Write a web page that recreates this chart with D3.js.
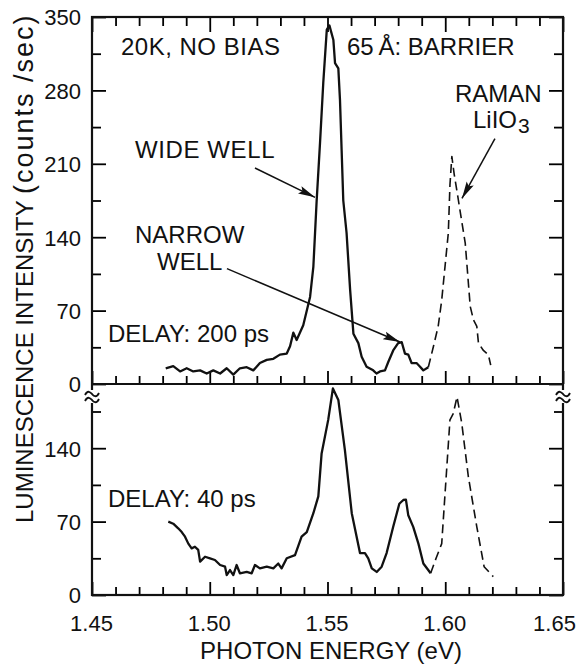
<!DOCTYPE html>
<html>
<head>
<meta charset="utf-8">
<script src="https://cdn.jsdelivr.net/npm/d3@7"></script>
<style>
body { margin: 0; background: #fff; }
svg text { font-family: "Liberation Sans", Arial, sans-serif; fill: #111; }
</style>
</head>
<body>
<div id="chart-area"></div>
<script>

// ---- data ----
// 200 ps delay, luminescence (solid)
var energy200 = [1.4813,1.4845,1.4874,1.4902,1.4930,1.4959,1.4987,1.5015,1.5044,1.5072,1.5100,1.5128,1.5157,1.5185,1.5213,1.5242,1.5270,1.5298,1.5327,1.5341,1.5355,1.5369,1.5397,1.5426,1.5440,1.5454,1.5468,1.5482,1.5497,1.5508,1.5525,1.5532,1.5546,1.5553,1.5560,1.5567,1.5581,1.5596,1.5610,1.5631,1.5645,1.5666,1.5694,1.5708,1.5723,1.5744,1.5758,1.5779,1.5800,1.5815,1.5829,1.5843,1.5857,1.5878,1.5893,1.5907,1.5928];
var counts200 = [15,17,12,15,12,13,10,13,10,15,9,15,16,13,20,23,24,28,29,36,49,42,56,83,112,175,229,287,338,342,328,306,301,271,223,175,144,90,48,39,26,16.5,13,10,12,13,21,32,39,40,29,28,20,20,16.5,13,16];
// 200 ps delay, Raman LiIO3 (dashed)
var ramanEnergy200 = [1.5928,1.5949,1.5970,1.5985,1.5999,1.6013,1.6020,1.6028,1.6038,1.6049,1.6056,1.6085,1.6106,1.6120,1.6134,1.6141,1.6162,1.6183,1.6193];
var ramanCounts200 = [16,35,55,80,112,144,190,217,200,185,175,134,74,61,55,39,32,28,18];

// 40 ps delay, luminescence (solid)
var energy40 = [1.4824,1.4845,1.4866,1.4881,1.4895,1.4909,1.4923,1.4937,1.4951,1.4959,1.4980,1.5001,1.5022,1.5044,1.5065,1.5072,1.5086,1.5100,1.5114,1.5128,1.5157,1.5178,1.5192,1.5213,1.5242,1.5270,1.5291,1.5305,1.5327,1.5362,1.5390,1.5412,1.5440,1.5461,1.5475,1.5503,1.5523,1.5546,1.5574,1.5603,1.5638,1.5659,1.5673,1.5688,1.5709,1.5730,1.5751,1.5779,1.5805,1.5822,1.5833,1.5843,1.5864,1.5886,1.5907,1.5938];
var counts40 = [70,68,63.6,60,55.6,49,44.5,46,43,31.8,36.5,35,33.4,28.6,27,19,23.8,19,28.6,20.7,22,20.7,28.6,25.4,27,25.4,30,25.4,35,38,55.6,60,78,94,135,167,197,186,138,78,40,40,35,25.4,22,27,40,65,87,90.6,91,76,65,49,30,20.7];
// 40 ps delay, Raman (dashed)
var ramanEnergy40 = [1.5938,1.5961,1.5985,1.6020,1.6034,1.6050,1.6070,1.6098,1.6134,1.6165,1.6204];
var ramanCounts40 = [20.7,35,49,167,173,189,164,113,65,27,17.5];

// ticks
var xTickLabels = ["1.45", "1.50", "1.55", "1.60", "1.65"];
var yTopMajor = [0, 70, 140, 210, 280, 350];
var yTopMinor = [35, 105, 175, 245, 315];
var yBotMajor = [0, 70, 140];
var yBotMinor = [35, 105, 175];

// arrows [fromEnergy, fromCount, toEnergy, toCount]
var arrowsTop = [
    [1.5192, 206, 1.5447, 178],   // wide well
    [1.6211, 234, 1.6071, 177],   // raman
    [1.5073, 110, 1.5808, 40]     // narrow well
];

// ---- layout ----
var margin = { left: 92, right: 563, top: 17, mid: 384, bottom: 595 };

var svg = d3.select("#chart-area")
    .append("svg")
        .attr("width", 582)
        .attr("height", 664);

var x = d3.scaleLinear().domain([1.45, 1.65]).range([margin.left, margin.right]);
var yTop = d3.scaleLinear().domain([0, 350]).range([margin.mid, margin.top]);
var yBot = d3.scaleLinear()
    .domain([0, 350 * (margin.bottom - margin.mid) / (margin.mid - margin.top)])
    .range([margin.bottom, margin.mid]);

var xMinor = d3.range(0, 21).filter(function(i){ return i % 5 != 0; }).map(function(i){ return 1.45 + i * 0.01; });
var xMajor = xTickLabels.map(Number);

function tidy(sel) {
    sel.select(".domain").remove();
    sel.selectAll("line").attr("stroke-width", 1.8);
    sel.selectAll("text").attr("font-size", 22).attr("font-family", null);
}

// X ticks: top edge (down), middle line (up), bottom (up)
svg.append("g").attr("transform", "translate(0," + margin.top + ")")
    .call(d3.axisTop(x).tickValues(xMinor).tickSize(-9).tickFormat(""))
    .call(tidy);
svg.append("g").attr("transform", "translate(0," + margin.top + ")")
    .call(d3.axisTop(x).tickValues(xMajor).tickSize(-15).tickFormat(""))
    .call(tidy);

[margin.mid, margin.bottom].forEach(function(yy){
    svg.append("g").attr("transform", "translate(0," + yy + ")")
        .call(d3.axisBottom(x).tickValues(xMinor).tickSize(-8).tickFormat(""))
        .call(tidy);
});
svg.append("g").attr("transform", "translate(0," + margin.mid + ")")
    .call(d3.axisBottom(x).tickValues(xMajor).tickSize(-13).tickFormat(""))
    .call(tidy);
var xLab = svg.append("g").attr("transform", "translate(0," + margin.bottom + ")")
    .call(d3.axisBottom(x).tickValues(xMajor).tickSizeInner(-13).tickSizeOuter(0).tickPadding(20)
        .tickFormat(function(d, i){ return xTickLabels[i]; }))
    .call(tidy);
xLab.selectAll("text").attr("dx", function(d, i){ return i == xTickLabels.length - 1 ? -9 : -1; });

// Y ticks, left with labels, right without
function yAxes(scale, major, minor) {
    svg.append("g").attr("transform", "translate(" + margin.left + ",0)")
        .call(d3.axisLeft(scale).tickValues(major).tickSizeInner(-14).tickSizeOuter(0).tickPadding(11)
            .tickFormat(d3.format("d")))
        .call(tidy)
        .selectAll("text").attr("dy", "0.36em");
    svg.append("g").attr("transform", "translate(" + margin.left + ",0)")
        .call(d3.axisLeft(scale).tickValues(minor).tickSize(-9).tickFormat(""))
        .call(tidy);
    svg.append("g").attr("transform", "translate(" + margin.right + ",0)")
        .call(d3.axisRight(scale).tickValues(major).tickSize(-14).tickFormat(""))
        .call(tidy);
    svg.append("g").attr("transform", "translate(" + margin.right + ",0)")
        .call(d3.axisRight(scale).tickValues(minor).tickSize(-9).tickFormat(""))
        .call(tidy);
}
yAxes(yTop, yTopMajor, yTopMinor);
yAxes(yBot, yBotMajor, yBotMinor);

// frame
svg.append("rect")
    .attr("x", margin.left).attr("y", margin.top)
    .attr("width", margin.right - margin.left).attr("height", margin.bottom - margin.top)
    .attr("fill", "none").attr("stroke", "#111").attr("stroke-width", 2.2);
svg.append("line")
    .attr("x1", margin.left).attr("x2", margin.right).attr("y1", margin.mid).attr("y2", margin.mid)
    .attr("stroke", "#111").attr("stroke-width", 2.2);

// axis break marks
[margin.left, margin.right].forEach(function(cx){
    var cy = 397;
    svg.append("rect").attr("x", cx - 3).attr("y", cy - 7).attr("width", 6).attr("height", 13).attr("fill", "#fff");
    [-3, 3].forEach(function(off){
        var yy = cy + off;
        svg.append("path")
            .attr("d", "M" + (cx - 7) + "," + (yy + 1) +
                " C" + (cx - 4) + "," + (yy - 5) + " " + (cx - 1) + "," + (yy - 1) + " " + cx + "," + yy +
                " C" + (cx + 1) + "," + (yy + 1) + " " + (cx + 4) + "," + (yy + 5) + " " + (cx + 7) + "," + (yy - 1))
            .attr("fill", "none").attr("stroke", "#111").attr("stroke-width", 1.8);
    });
});

// data lines
function drawLine(xs, ys, scale, dashed) {
    var line = d3.line()
        .x(function(d){ return x(d[0]); })
        .y(function(d){ return scale(d[1]); });
    svg.append("path")
        .datum(d3.zip(xs, ys))
        .attr("d", line)
        .attr("fill", "none")
        .attr("stroke", "#111")
        .attr("stroke-width", dashed ? 1.6 : 2.3)
        .attr("stroke-linejoin", "round")
        .attr("stroke-dasharray", dashed ? "9,5" : null);
}
drawLine(energy200, counts200, yTop, false);
drawLine(ramanEnergy200, ramanCounts200, yTop, true);
drawLine(energy40, counts40, yBot, false);
drawLine(ramanEnergy40, ramanCounts40, yBot, true);

// arrows
svg.append("defs").append("marker")
    .attr("id", "head")
    .attr("markerUnits", "userSpaceOnUse")
    .attr("markerWidth", 18).attr("markerHeight", 10)
    .attr("refX", 17).attr("refY", 5)
    .attr("orient", "auto")
  .append("path")
    .attr("d", "M0,1 L17,5 L0,9 L3,5 Z")
    .attr("fill", "#111");

svg.selectAll(".arrow")
    .data(arrowsTop)
    .enter().append("line")
        .attr("class", "arrow")
        .attr("x1", function(d){ return x(d[0]); })
        .attr("y1", function(d){ return yTop(d[1]); })
        .attr("x2", function(d){ return x(d[2]); })
        .attr("y2", function(d){ return yTop(d[3]); })
        .attr("stroke", "#111")
        .attr("stroke-width", 1.5)
        .attr("marker-end", "url(#head)");

// annotation texts
function label(tx, ty, str) {
    return svg.append("text").attr("x", tx).attr("y", ty).attr("font-size", 24).text(str);
}
label(121, 55, "20K, NO BIAS").attr("letter-spacing", 0.5);
label(347, 55, "65\u2009\u00C5: BARRIER");
label(455, 102, "RAMAN");
var lio = svg.append("text").attr("x", 473).attr("y", 128).attr("font-size", 24);
lio.append("tspan").text("LiIO");
lio.append("tspan").attr("font-size", 21).attr("dy", 5).attr("dx", 1).text("3");
label(135, 158, "WIDE WELL").attr("letter-spacing", 0.6);
label(135, 243, "NARROW");
label(157, 270, "WELL");
label(108, 342, "DELAY: 200 ps");
label(108, 507, "DELAY: 40 ps");

// axis titles
svg.append("text")
    .attr("x", 331)
    .attr("y", 659)
    .attr("text-anchor", "middle")
    .attr("font-size", 24)
    .text("PHOTON ENERGY (eV)");

var yl = svg.append("text")
    .attr("transform", "translate(33,523) rotate(-90)")
    .attr("font-size", 24);
yl.append("tspan").text("LUMINESCENCE INTENSITY ");
yl.append("tspan").attr("font-size", 27).attr("letter-spacing", 2).text("(counts /sec)");

</script>
</body>
</html>
